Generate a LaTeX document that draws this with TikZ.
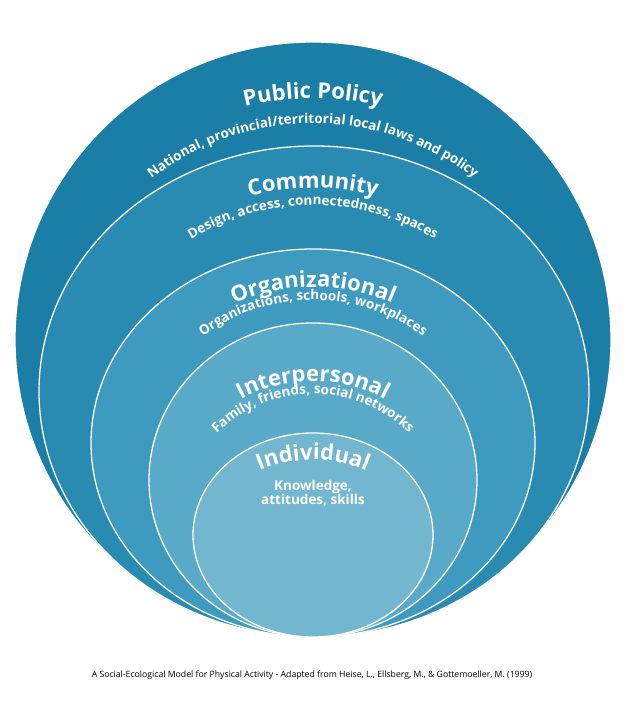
\documentclass[tikz,border=0pt]{standalone}
\usepackage{fontspec}
\setmainfont{Open Sans}
\usetikzlibrary{decorations.text}
\definecolor{cA}{HTML}{1B7EA6}
\definecolor{cB}{HTML}{2A8BB2}
\definecolor{cC}{HTML}{3E9ABE}
\definecolor{cD}{HTML}{58AAC8}
\definecolor{cE}{HTML}{72B7CF}
\newcommand{\ttl}{\fontsize{22}{22}\selectfont\bfseries\color{white}}
\newcommand{\sbt}{\fontsize{13.5}{13.5}\selectfont\bfseries\color{white}}
\tikzset{ring/.style={draw=white,line width=1.3pt},
 curved/.style={decorate,decoration={text along path,text align=center,text format delimiters={|}{|},text={#1}}}}
\begin{document}
\begin{tikzpicture}[x=1pt,y=1pt]
\useasboundingbox (0,0) rectangle (625,702);
\fill[white] (0,0) rectangle (625,702);
\path[ring,fill=cA] (313,362.5) ellipse[x radius=298,y radius=297.5];
\path[ring,fill=cB] (314,310.5) ellipse[x radius=275,y radius=245.5];
\path[ring,fill=cC] (313,259) ellipse[x radius=222,y radius=194];
\path[ring,fill=cD] (313,222) ellipse[x radius=164,y radius=157];
\path[ring,fill=cE] (313,167) ellipse[x radius=120,y radius=102];
% Public policy
\path[curved={|\ttl|Public Policy}] (313,315.6) ++(120:288) arc[start angle=120,end angle=60,radius=288];
\path[curved={|\sbt|National, provincial/territorial local laws and policy}] (313,315.6) ++(155:263) arc[start angle=155,end angle=25,radius=263];
% Community
\path[curved={|\ttl|Community}] (313,264) ++(125:250) arc[start angle=125,end angle=55,radius=250];
\path[curved={|\sbt|Design, access, connectedness, spaces}] (313,264) ++(155:233) arc[start angle=155,end angle=25,radius=233];
% Organizational
\path[curved={|\ttl|Organizational}] (313,217) ++(135:198) arc[start angle=135,end angle=45,radius=198];
\path[curved={|\sbt|Organizations, schools, workplaces}] (313,217) ++(160:185) arc[start angle=160,end angle=20,radius=185];
% Interpersonal
\path[curved={|\ttl|Interpersonal}] (313,171) ++(145:150) arc[start angle=145,end angle=35,radius=150];
\path[curved={|\sbt|Family, friends, social networks}] (313,171) ++(170:137) arc[start angle=170,end angle=10,radius=137];
% Individual
\path[curved={|\ttl|Individual}] (313,101) ++(130:141) arc[start angle=130,end angle=50,radius=141];
\node[align=center,font=\sbt] (ind) at (313,209) {Knowledge,\\[1pt]attitudes, skills};
\node[font=\fontsize{8.7}{9}\selectfont] (cap) at (312,27) {A Social-Ecological Model for Physical Activity - Adapted from Heise, L., Ellsberg, M., \& Gottemoeller, M. (1999)};
\end{tikzpicture}
\end{document}
